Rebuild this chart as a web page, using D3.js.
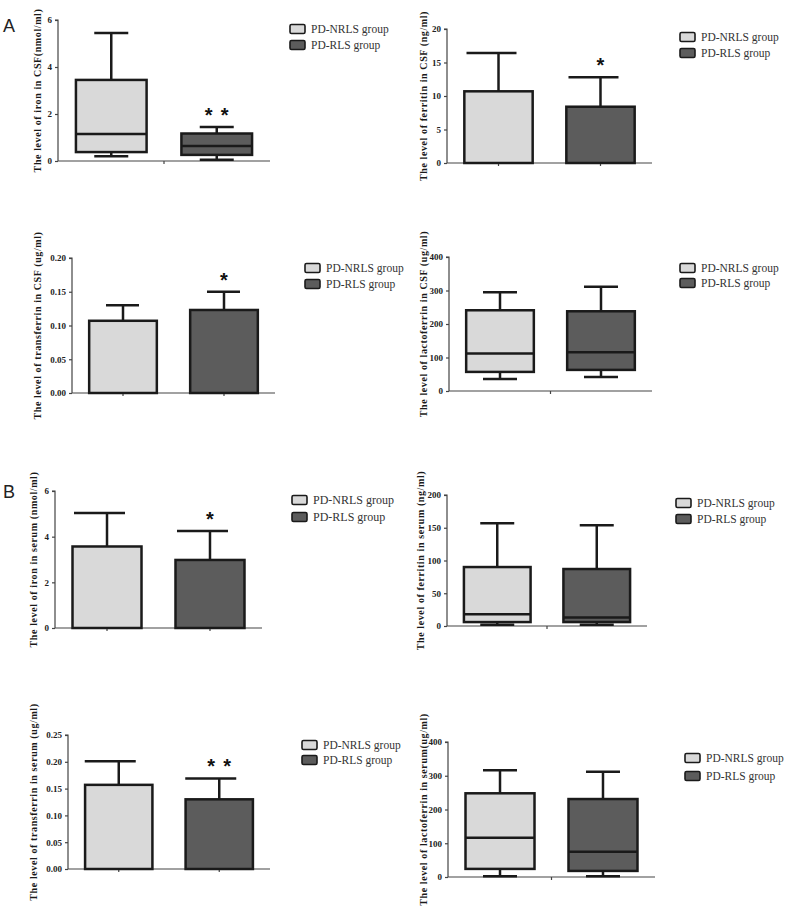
<!DOCTYPE html>
<html>
<head>
<meta charset="utf-8">
<script src="https://cdn.jsdelivr.net/npm/d3@7"></script>
<style>
  body { margin: 0; background: #fff; }
  svg { display: block; }
  .tick text { font-family: "Liberation Serif", "DejaVu Serif", serif; font-weight: bold; font-size: 9px; fill: #222; }
  .ylab { font-family: "Liberation Serif", "DejaVu Serif", serif; font-weight: bold; font-size: 10px; letter-spacing: 0.6px; fill: #1a1a1a; }
  .leg { font-family: "Liberation Serif", "DejaVu Serif", serif; font-size: 11.5px; fill: #333; }
  .star { font-family: "Liberation Sans", sans-serif; font-weight: bold; font-size: 20px; fill: #111; }
  .plabel { font-family: "Liberation Sans", "Open Sans", sans-serif; font-size: 18px; fill: #222; }
</style>
</head>
<body>
<svg id="fig" width="787" height="911"></svg>
<script>
// groups and legend
var groups = ["PD-NRLS group", "PD-RLS group"];
var fills = ["#d9d9d9", "#5c5c5c"];

// A: CSF
var csfIron = [
    {min: 0.2, q1: 0.38, median: 1.15, q3: 3.45, max: 5.45},
    {min: 0.05, q1: 0.26, median: 0.64, q3: 1.17, max: 1.45}
];
var csfFerritinMean = [10.7, 8.4];
var csfFerritinSd = [16.4, 12.8];
var csfTransferrinMean = [0.107, 0.123];
var csfTransferrinSd = [0.130, 0.150];
var csfLactoferrin = [
    {min: 36, q1: 57, median: 112, q3: 241, max: 295},
    {min: 42, q1: 63, median: 116, q3: 238, max: 311}
];

// B: serum
var serumIronMean = [3.57, 2.98];
var serumIronSd = [5.04, 4.25];
var serumFerritin = [
    {min: 2, q1: 6, median: 18, q3: 90, max: 157},
    {min: 2, q1: 6, median: 13, q3: 87, max: 154}
];
var serumTransferrinMean = [0.157, 0.130];
var serumTransferrinSd = [0.201, 0.169];
var serumLactoferrin = [
    {min: 2, q1: 24, median: 116, q3: 248, max: 316},
    {min: 2, q1: 18, median: 75, q3: 231, max: 312}
];

// axis ticks
var ticksIron = [0, 2, 4, 6];
var ticksCsfFerritin = [0, 5, 10, 15, 20];
var ticksCsfTransferrin = [0, 0.05, 0.10, 0.15, 0.20];
var ticksLacto = [0, 100, 200, 300, 400];
var ticksSerumFerritin = [0, 50, 100, 150, 200];
var ticksSerumTransferrin = [0, 0.05, 0.10, 0.15, 0.20, 0.25];

// significance marks
var sigCsfIron = ["", "* *"];
var sigCsfFerritin = ["", "*"];
var sigCsfTransferrin = ["", "*"];
var sigNone = ["", ""];
var sigSerumIron = ["", "*"];
var sigSerumTransferrin = ["", "* *"];

var svg = d3.select("#fig");

svg.append("text").attr("class", "plabel").attr("x", 3).attr("y", 32).text("A");
svg.append("text").attr("class", "plabel").attr("x", 3).attr("y", 498).text("B");

function panel(p){
    var g = svg.append("g");
    var y = d3.scaleLinear().domain([0, p.ticks[p.ticks.length - 1]]).range([p.yb, p.yt]);
    var x = d3.scaleBand().domain(groups).range([p.x0, p.x1]).paddingInner(0.33).paddingOuter(0.17);
    var bw = x.bandwidth();

    // y axis
    var ya = g.append("g").attr("transform", "translate(" + p.x0 + ",0)")
        .call(d3.axisLeft(y).tickValues(p.ticks).tickSize(3).tickPadding(3).tickFormat(d3.format(p.fmt)));
    ya.selectAll("path, line").attr("stroke", "#444").attr("stroke-width", 1.2);
    ya.select(".domain").attr("d", "M0," + p.yb + "V" + p.yt + "H-3");

    // x axis line
    g.append("line").attr("x1", p.x0).attr("x2", p.x1).attr("y1", p.yb).attr("y2", p.yb)
        .attr("stroke", "#444").attr("stroke-width", 1.2);
    var xt = p.box ? [(p.x0 + p.x1) / 2] : groups.map(function(d){ return x(d) + bw / 2; });
    g.selectAll(".xt").data(xt).enter().append("line")
        .attr("x1", function(d){ return d; }).attr("x2", function(d){ return d; })
        .attr("y1", p.yb).attr("y2", p.yb + 3)
        .attr("stroke", "#444").attr("stroke-width", 1.2);

    var top = [];
    groups.forEach(function(gr, i){
        var cx = x(gr) + bw / 2;
        var line = function(x1, y1, x2, y2){
            g.append("line").attr("x1", x1).attr("y1", y1).attr("x2", x2).attr("y2", y2)
                .attr("stroke", "#1a1a1a").attr("stroke-width", 2.5);
        };
        if (p.box){
            var s = p.box[i];
            line(cx, y(s.q3), cx, y(s.max));
            line(cx - 17, y(s.max), cx + 17, y(s.max));
            line(cx, y(s.q1), cx, y(s.min));
            line(cx - 17, y(s.min), cx + 17, y(s.min));
            g.append("rect").attr("x", x(gr)).attr("y", y(s.q3))
                .attr("width", bw).attr("height", y(s.q1) - y(s.q3))
                .attr("fill", fills[i]).attr("stroke", "#1a1a1a").attr("stroke-width", 2.5);
            line(x(gr), y(s.median), x(gr) + bw, y(s.median));
            top.push(s.max);
        } else {
            line(cx, y(p.mean[i]), cx, y(p.sd[i]));
            line(cx - p.capL, y(p.sd[i]), cx + p.capR, y(p.sd[i]));
            g.append("rect").attr("x", x(gr)).attr("y", y(p.mean[i]))
                .attr("width", bw).attr("height", p.yb - y(p.mean[i]))
                .attr("fill", fills[i]).attr("stroke", "#1a1a1a").attr("stroke-width", 2.5);
            top.push(p.sd[i]);
        }
        if (p.sig[i]){
            var marks = p.sig[i].split(" ");
            marks.forEach(function(m, k){
                var off = marks.length > 1 ? (k - 0.5) * 16 : 0;
                g.append("text").attr("class", "star")
                    .attr("x", cx + off).attr("y", y(top[i]) - 5)
                    .attr("text-anchor", "middle").text(m);
            });
        }
    });

    // y label
    g.append("text").attr("class", "ylab")
        .attr("transform", "translate(" + p.lx + "," + ((p.yt + p.yb) / 2) + ") rotate(-90)")
        .attr("text-anchor", "middle").attr("dy", "0.35em")
        .text(p.label);

    // legend
    var lg = g.append("g").attr("transform", "translate(" + p.lgx + "," + p.lgy + ")");
    groups.forEach(function(gr, i){
        lg.append("rect").attr("x", 0).attr("y", i * p.lgs - 4.5).attr("width", 15).attr("height", 9)
            .attr("rx", 1.5).attr("fill", fills[i]).attr("stroke", "#1a1a1a").attr("stroke-width", 1.6);
        lg.append("text").attr("class", "leg").attr("x", 21).attr("y", i * p.lgs)
            .attr("dy", "0.35em").style("font-size", p.lfs + "px").text(gr);
    });
}

panel({x0: 58, x1: 270, yt: 20, yb: 161, ticks: ticksIron, fmt: "d", box: csfIron, sig: sigCsfIron,
    lx: 37, label: "The level of iron in CSF(nmol/ml)", lgx: 290, lgy: 29, lgs: 16, lfs: 11.5});
panel({x0: 447, x1: 652, yt: 29, yb: 163, ticks: ticksCsfFerritin, fmt: "d", mean: csfFerritinMean, sd: csfFerritinSd,
    capL: 32, capR: 18, sig: sigCsfFerritin,
    lx: 423, label: "The level of ferritin in CSF (ng/ml)", lgx: 680, lgy: 37, lgs: 16, lfs: 11.5});
panel({x0: 72, x1: 275, yt: 258, yb: 393, ticks: ticksCsfTransferrin, fmt: ".2f", mean: csfTransferrinMean, sd: csfTransferrinSd,
    capL: 17, capR: 16, sig: sigCsfTransferrin,
    lx: 37, label: "The level of transferrin in CSF (ug/ml)", lgx: 305, lgy: 268, lgs: 16, lfs: 11.5});
panel({x0: 449, x1: 652, yt: 257, yb: 391, ticks: ticksLacto, fmt: "d", box: csfLactoferrin, sig: sigNone,
    lx: 423, label: "The level of lactoferrin in CSF (ug/ml)", lgx: 680, lgy: 268, lgs: 15, lfs: 11.5});
panel({x0: 55, x1: 262, yt: 491, yb: 628, ticks: ticksIron, fmt: "d", mean: serumIronMean, sd: serumIronSd,
    capL: 33, capR: 18, sig: sigSerumIron,
    lx: 33, label: "The level of iron in serum (nmol/ml)", lgx: 292, lgy: 500, lgs: 17, lfs: 12});
panel({x0: 447, x1: 647, yt: 495, yb: 626, ticks: ticksSerumFerritin, fmt: "d", box: serumFerritin, sig: sigNone,
    lx: 420, label: "The level of ferritin in serum (ng/ml)", lgx: 676, lgy: 503, lgs: 16, lfs: 11.5});
panel({x0: 68, x1: 270, yt: 735, yb: 869, ticks: ticksSerumTransferrin, fmt: ".2f", mean: serumTransferrinMean, sd: serumTransferrinSd,
    capL: 34, capR: 17, sig: sigSerumTransferrin,
    lx: 33, label: "The level of transferrin in serum (ug/ml)", lgx: 302, lgy: 745, lgs: 15, lfs: 11.5});
panel({x0: 448, x1: 655, yt: 742, yb: 877, ticks: ticksLacto, fmt: "d", box: serumLactoferrin, sig: sigNone,
    lx: 423, label: "The level of lactoferrin in serum(ug/ml)", lgx: 685, lgy: 758, lgs: 18, lfs: 11.5});
</script>
</body>
</html>
